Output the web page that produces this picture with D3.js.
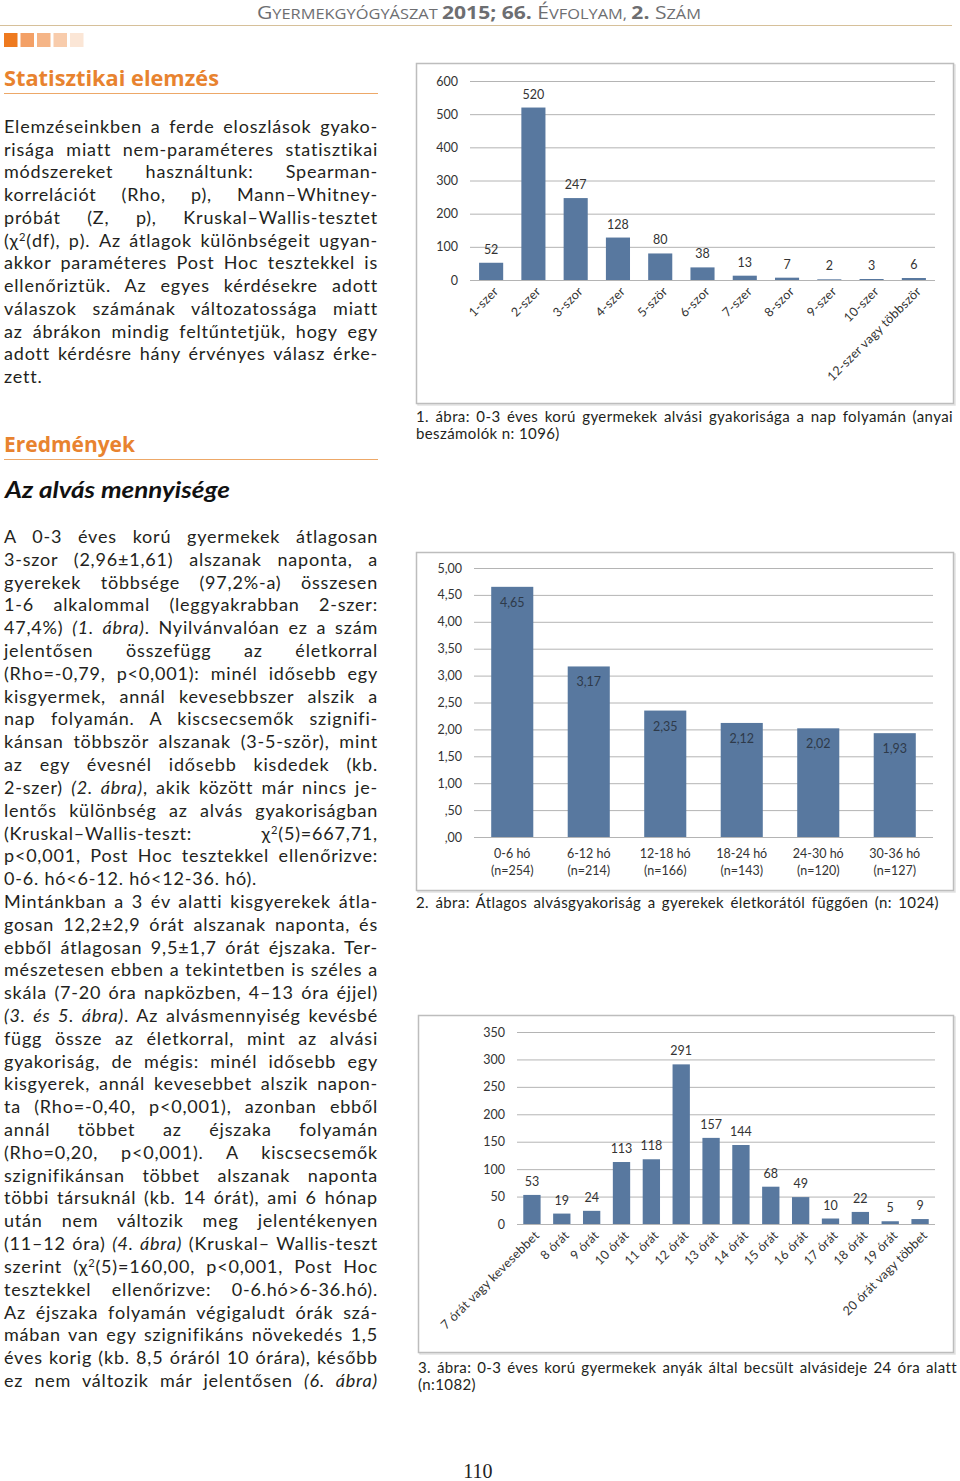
<!DOCTYPE html>
<html><head><meta charset="utf-8">
<script src="https://cdn.jsdelivr.net/npm/d3@7"></script>
<style>
html,body{margin:0;padding:0;background:#fff;}
svg{display:block;}
</style></head>
<body>
<svg id="page" width="960" height="1481"></svg>
<script>
// ---------- DATA ----------
const chart1Categories = ["1-szer","2-szer","3-szor","4-szer","5-ször","6-szor","7-szer","8-szor","9-szer","10-szer","12-szer vagy többször"];
const chart1Values = [52,520,247,128,80,38,13,7,2,3,6];
const chart1Ticks = [0,100,200,300,400,500,600];

const chart2Categories = ["0-6 hó","6-12 hó","12-18 hó","18-24 hó","24-30 hó","30-36 hó"];
const chart2Counts = ["(n=254)","(n=214)","(n=166)","(n=143)","(n=120)","(n=127)"];
const chart2Values = [4.65,3.17,2.35,2.12,2.02,1.93];
const chart2Ticks = [0,0.5,1,1.5,2,2.5,3,3.5,4,4.5,5];

const chart3Categories = ["7 órát vagy kevesebbet","8 órát","9 órát","10 órát","11 órát","12 órát","13 órát","14 órát","15 órát","16 órát","17 órát","18 órát","19 órát","20 órát vagy többet"];
const chart3Values = [53,19,24,113,118,291,157,144,68,49,10,22,5,9];
const chart3Ticks = [0,50,100,150,200,250,300,350];

const para1 = [
 "Elemzéseinkben a ferde eloszlások gyako-",
 "risága miatt nem-paraméteres statisztikai",
 "módszereket használtunk: Spearman-",
 "korrelációt (Rho, p), Mann–Whitney-",
 "próbát (Z, p), Kruskal–Wallis-tesztet",
 "(χ^2(df), p). Az átlagok különbségeit ugyan-",
 "akkor paraméteres Post Hoc tesztekkel is",
 "ellenőriztük. Az egyes kérdésekre adott",
 "válaszok számának változatossága miatt",
 "az ábrákon mindig feltűntetjük, hogy egy",
 "adott kérdésre hány érvényes válasz érke-",
 "!zett."
];
const para2 = [
 "A 0-3 éves korú gyermekek átlagosan",
 "3-szor (2,96±1,61) alszanak naponta, a",
 "gyerekek többsége (97,2%-a) összesen",
 "1-6 alkalommal (leggyakrabban 2-szer:",
 "47,4%) _(1. ábra)_. Nyilvánvalóan ez a szám",
 "jelentősen összefügg az életkorral",
 "(Rho=-0,79, p<0,001): minél idősebb egy",
 "kisgyermek, annál kevesebbszer alszik a",
 "nap folyamán. A kiscsecsemők szignifi-",
 "kánsan többször alszanak (3-5-ször), mint",
 "az egy évesnél idősebb kisdedek (kb.",
 "2-szer) _(2. ábra)_, akik között már nincs je-",
 "lentős különbség az alvás gyakoriságban",
 "(Kruskal–Wallis-teszt: χ^2(5)=667,71,",
 "p<0,001, Post Hoc tesztekkel ellenőrizve:",
 "!0-6. hó<6-12. hó<12-36. hó).",
 "Mintánkban a 3 év alatti kisgyerekek átla-",
 "gosan 12,2±2,9 órát alszanak naponta, és",
 "ebből átlagosan 9,5±1,7 órát éjszaka. Ter-",
 "mészetesen ebben a tekintetben is széles a",
 "skála (7-20 óra napközben, 4–13 óra éjjel)",
 "_(3. és 5. ábra)_. Az alvásmennyiség kevésbé",
 "függ össze az életkorral, mint az alvási",
 "gyakoriság, de mégis: minél idősebb egy",
 "kisgyerek, annál kevesebbet alszik napon-",
 "ta (Rho=-0,40, p<0,001), azonban ebből",
 "annál többet az éjszaka folyamán",
 "(Rho=0,20, p<0,001). A kiscsecsemők",
 "szignifikánsan többet alszanak naponta",
 "többi társuknál (kb. 14 órát), ami 6 hónap",
 "után nem változik meg jelentékenyen",
 "(11–12 óra) _(4. ábra)_ (Kruskal– Wallis-teszt",
 "szerint (χ^2(5)=160,00, p<0,001, Post Hoc",
 "tesztekkel ellenőrizve: 0-6.hó>6-36.hó).",
 "Az éjszaka folyamán végigaludt órák szá-",
 "mában van egy szignifikáns növekedés 1,5",
 "éves korig (kb. 8,5 óráról 10 órára), később",
 "ez nem változik már jelentősen _(6. ábra)_"
];
const caption1 = ["1. ábra: 0-3 éves korú gyermekek alvási gyakorisága a nap folyamán (anyai","!beszámolók n: 1096)"];
const caption2 = ["2. ábra: Átlagos alvásgyakoriság a gyerekek életkorától függően (n: 1024)"];
const caption3 = ["3. ábra: 0-3 éves korú gyermekek anyák által becsült alvásideje 24 óra alatt","!(n:1082)"];

// ---------- STYLE ----------
const BAR = "#58789f";
const GRID = "#b4b4b4";
const ORANGE = "#e8832f";
const BODY = "#231f20";
const chartFont = "Lato, 'Open Sans', sans-serif";
const bodyFont = "Lato, 'Noto Sans', sans-serif";

const svg = d3.select("#page");

// ---------- HEADER ----------
const hdr = svg.append("text").attr("x",257).attr("y",19).attr("fill","#6d6e71")
  .attr("font-family","'Open Sans', Lato, sans-serif").attr("textLength",444).attr("lengthAdjust","spacingAndGlyphs");
const hdrParts = [["G",18,400],["YERMEKGYÓGYÁSZAT ",14,400],["2015; 66. ",18,700],["É",18,400],["VFOLYAM, ",14,400],["2. ",18,700],["S",18,400],["ZÁM",14,400]];
hdrParts.forEach(p=>hdr.append("tspan").attr("font-size",p[1]).attr("font-weight",p[2]).text(p[0]));
svg.append("line").attr("x1",0).attr("x2",952).attr("y1",25.5).attr("y2",25.5).attr("stroke","#d6c09a").attr("stroke-width",1.2);
const squares = ["#ee7a1f","#f3a066","#f5b587","#f8ccac","#fbe6d6"];
svg.selectAll("rect.sq").data(squares).enter().append("rect")
  .attr("x",(d,i)=>4+i*16.5).attr("y",33).attr("width",13.5).attr("height",14).attr("fill",d=>d);

// ---------- SECTION TITLES ----------
function sectionTitle(txt, y, w){
  svg.append("text").attr("x",4).attr("y",y).attr("fill",ORANGE).attr("font-family","'Open Sans', Lato, sans-serif")
    .attr("font-weight",700).attr("font-size",22).attr("textLength",w).attr("lengthAdjust","spacingAndGlyphs").text(txt);
  svg.append("line").attr("x1",4).attr("x2",378).attr("y1",y+7.5).attr("y2",y+7.5).attr("stroke","#eda868").attr("stroke-width",1.2);
}
sectionTitle("Statisztikai elemzés",86,215);
sectionTitle("Eredmények",452,131);
svg.append("text").attr("x",5).attr("y",498).attr("fill","#111").attr("font-family",bodyFont)
  .attr("font-weight",700).attr("font-style","italic").attr("font-size",23).attr("textLength",225).attr("lengthAdjust","spacingAndGlyphs").text("Az alvás mennyisége");

// ---------- JUSTIFIED TEXT ----------
function drawLines(lines, x, yFirst, lh, width, size, ls){
  lines.forEach((raw,i)=>{
    let justify = true, s = raw;
    if (s.startsWith("!")) { justify=false; s=s.slice(1); }
    const t = svg.append("text").attr("x",x).attr("y",yFirst+i*lh).attr("fill",BODY)
      .attr("font-family",bodyFont).attr("font-size",size).attr("letter-spacing",ls).attr("xml:space","preserve");
    const parts = s.split(/(_[^_]+_|\^2)/).filter(p=>p.length);
    let pendingDown = false;
    parts.forEach(p=>{
      const ts = t.append("tspan");
      if (pendingDown){ ts.attr("dy",6); pendingDown=false; }
      if (p==="^2"){ ts.attr("dy",-6).attr("font-size",size*0.62).text("2"); pendingDown=true; }
      else if (p.startsWith("_")){ ts.attr("font-style","italic").text(p.slice(1,-1)); }
      else ts.text(p);
    });
    if (justify){
      const nat = t.node().getComputedTextLength();
      const spaces = (s.replace(/_/g,"").match(/ /g)||[]).length;
      let ws = spaces>0 ? (width-nat)/spaces : 0;
      if (ws < -1.5) { // too long: tighten letters instead
        const chars = s.replace(/_|\^/g,"").length;
        t.attr("letter-spacing", ls + (width-nat-(-1.5*spaces))/chars);
        ws = -1.5;
      }
      if (spaces>0) t.attr("word-spacing",ws);
    }
  });
}
drawLines(para1,4,133,22.73,374,18,0.8);
drawLines(para2,4,543,22.81,374,18,0.8);
drawLines(caption1,416,422,17,537,15,0.4);
drawLines(caption2,416,908,17,523,15,0.4);
drawLines(caption3,418,1373,17,539,15,0.4);

// page number
svg.append("text").attr("x",478).attr("y",1478).attr("text-anchor","middle").attr("font-family","'Liberation Serif', serif")
  .attr("font-size",20).attr("fill","#222").text("110");

// ---------- CHARTS ----------
function frame(x,y,w,h){
  svg.append("rect").attr("x",x+1.5).attr("y",y+1.5).attr("width",w).attr("height",h).attr("fill","none").attr("stroke","#e2e2e2").attr("stroke-width",1.5);
  svg.append("rect").attr("x",x).attr("y",y).attr("width",w).attr("height",h).attr("fill","#fff").attr("stroke","#bdbdbd").attr("stroke-width",1.5);
}
function chart(o){
  const x = d3.scaleBand().domain(o.cats).range([o.x0,o.x1]).paddingInner(o.pad).paddingOuter(o.pad/2);
  const y = d3.scaleLinear().domain([0,o.max]).range([o.yb,o.yt]);
  const g = svg.append("g");
  const ax = g.append("g").attr("transform",`translate(${o.x0},0)`)
    .call(d3.axisLeft(y).tickValues(o.ticks).tickSize(-(o.x1-o.x0)).tickPadding(o.tpad).tickFormat(o.fmt));
  ax.select(".domain").remove();
  ax.selectAll(".tick line").attr("stroke",GRID).attr("stroke-width",1);
  ax.selectAll(".tick text").attr("fill","#333").attr("font-family",chartFont).attr("font-size",12.5);
  g.selectAll("rect.bar").data(o.vals).enter().append("rect")
    .attr("x",(d,i)=>x(o.cats[i])).attr("width",x.bandwidth())
    .attr("y",d=>y(d)).attr("height",d=>o.yb-y(d)).attr("fill",BAR);
  return {x,y,g};
}

// Chart 1
frame(416.5,63.5,537,340);
{
  const c = chart({cats:chart1Categories, vals:chart1Values, x0:470, x1:935, yb:280, yt:81, max:600, ticks:chart1Ticks, pad:0.43, tpad:12, fmt:d3.format("d")});
  c.g.selectAll("text.val").data(chart1Values).enter().append("text")
    .attr("x",(d,i)=>c.x(chart1Categories[i])+c.x.bandwidth()/2).attr("y",d=>c.y(d)-9)
    .attr("text-anchor","middle").attr("font-family",chartFont).attr("font-size",12.5).attr("fill","#333").text(d=>d);
  c.g.selectAll("text.cat").data(chart1Categories).enter().append("text")
    .attr("transform",d=>`translate(${c.x(d)+c.x.bandwidth()/2+5},${289}) rotate(-45)`)
    .attr("text-anchor","end").attr("dy","0.35em").attr("font-family",chartFont).attr("font-size",12.5).attr("letter-spacing",0.3).attr("fill","#333").text(d=>d);
}

// Chart 2
frame(416.5,552.5,537,338);
{
  const fmt2 = d => d3.format(".2f")(d).replace(".",",").replace(/^0,/,",");
  const c = chart({cats:chart2Categories, vals:chart2Values, x0:474, x1:933, yb:837, yt:568, max:5, ticks:chart2Ticks, pad:0.45, tpad:12, fmt:fmt2});
  c.g.selectAll("text.val").data(chart2Values).enter().append("text")
    .attr("x",(d,i)=>c.x(chart2Categories[i])+c.x.bandwidth()/2).attr("y",d=>c.y(d)+20)
    .attr("text-anchor","middle").attr("font-family",chartFont).attr("font-size",12.5).attr("fill","#2e3a4a").text(fmt2);
  c.g.selectAll("text.cat").data(chart2Categories).enter().append("text")
    .attr("x",d=>c.x(d)+c.x.bandwidth()/2).attr("y",858).attr("text-anchor","middle")
    .attr("font-family",chartFont).attr("font-size",12.5).attr("fill","#333").text(d=>d);
  c.g.selectAll("text.n").data(chart2Counts).enter().append("text")
    .attr("x",(d,i)=>c.x(chart2Categories[i])+c.x.bandwidth()/2).attr("y",875).attr("text-anchor","middle")
    .attr("font-family",chartFont).attr("font-size",12.5).attr("fill","#333").text(d=>d);
}

// Chart 3
frame(418.5,1015.5,535,337);
{
  const c = chart({cats:chart3Categories, vals:chart3Values, x0:517, x1:935, yb:1224, yt:1032, max:350, ticks:chart3Ticks, pad:0.42, tpad:12, fmt:d3.format("d")});
  c.g.selectAll("text.val").data(chart3Values).enter().append("text")
    .attr("x",(d,i)=>c.x(chart3Categories[i])+c.x.bandwidth()/2).attr("y",d=>c.y(d)-9)
    .attr("text-anchor","middle").attr("font-family",chartFont).attr("font-size",12.5).attr("fill","#333").text(d=>d);
  c.g.selectAll("text.cat").data(chart3Categories).enter().append("text")
    .attr("transform",d=>`translate(${c.x(d)+c.x.bandwidth()/2+5},${1233}) rotate(-45)`)
    .attr("text-anchor","end").attr("dy","0.35em").attr("font-family",chartFont).attr("font-size",12.5).attr("letter-spacing",0.3).attr("fill","#333").text(d=>d);
}
</script>
</body></html>
